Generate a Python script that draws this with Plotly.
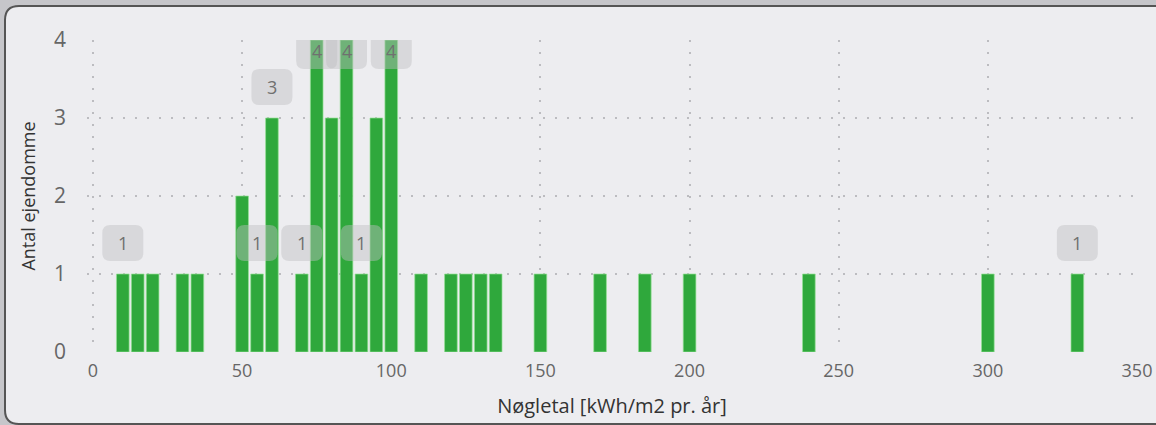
import plotly.graph_objects as go

# Histogram bins (centre of each 5-unit bin) and number of properties
bin_centers = [10, 15, 20, 30, 35, 50, 55, 60, 70, 75, 80, 85, 90, 95, 100,
               110, 120, 125, 130, 135, 150, 170, 185, 200, 240, 300, 330]
counts = [1, 1, 1, 1, 1, 2, 1, 3, 1, 4, 3, 4, 1, 3, 4,
          1, 1, 1, 1, 1, 1, 1, 1, 1, 1, 1, 1]

# Bins that carry a value label in the original chart
labeled_bins = [10, 55, 60, 70, 75, 85, 90, 100, 330]

x_ticks = [0, 50, 100, 150, 200, 250, 300, 350]
y_ticks = [0, 1, 2, 3, 4]
x_title = "Nøgletal [kWh/m2 pr. år]"
y_title = "Antal ejendomme"

W, H = 1156, 425
ML, MR, MT, MB = 87, 19, 40, 73
Y_MAX = 4

fig = go.Figure(go.Bar(
    x=bin_centers,
    y=counts,
    marker=dict(color="#2fa83c", line=dict(color="rgba(150,225,150,0.7)", width=1)),
    hoverinfo="x+y",
))


def rounded_box(w, h, r, y0):
    # rounded rectangle path in pixels, centred horizontally, bottom at y0 (up is positive)
    x0, x1 = -w / 2, w / 2
    y1 = y0 + h
    return (f"M {x0 + r},{y0} L {x1 - r},{y0} Q {x1},{y0} {x1},{y0 + r} "
            f"L {x1},{y1 - r} Q {x1},{y1} {x1 - r},{y1} L {x0 + r},{y1} "
            f"Q {x0},{y1} {x0},{y1 - r} L {x0},{y0 + r} Q {x0},{y0} {x0 + r},{y0} Z")


shapes = []
annotations = []
for xb, c in zip(bin_centers, counts):
    if xb not in labeled_bins:
        continue
    at_top = c >= Y_MAX
    box_bottom = -29 if at_top else 13
    text_shift = -11 if at_top else 31
    shapes.append(dict(
        type="path", xref="x", yref="y",
        xsizemode="pixel", ysizemode="pixel",
        xanchor=xb, yanchor=c,
        path=rounded_box(41, 36, 8, box_bottom),
        fillcolor="rgba(190,190,192,0.45)", line=dict(width=0), layer="above",
    ))
    annotations.append(dict(
        x=xb, y=c, xref="x", yref="y", text=str(c), showarrow=False,
        yshift=text_shift, font=dict(size=18, color="#707070"),
    ))


# frame around the chart (light panel with dark border, rounded left corners)
def px_x(p):
    return (p - ML) / (W - ML - MR)


def px_y(p):
    return (H - MB - p) / (H - MT - MB)


r = 14
left, top, bottom, right = 5, 6, 424, 1170
frame_path = (f"M {px_x(right)},{px_y(top)} L {px_x(left + r)},{px_y(top)} "
              f"Q {px_x(left)},{px_y(top)} {px_x(left)},{px_y(top + r)} "
              f"L {px_x(left)},{px_y(bottom - r)} "
              f"Q {px_x(left)},{px_y(bottom)} {px_x(left + r)},{px_y(bottom)} "
              f"L {px_x(right)},{px_y(bottom)} Z")
shapes.insert(0, dict(
    type="path", xref="paper", yref="paper", path=frame_path,
    fillcolor="#ededf0", line=dict(color="#555555", width=2), layer="below",
))

grid = dict(showgrid=True, gridcolor="rgba(175,175,180,0.8)", gridwidth=2, griddash="2px,10px")

fig.update_layout(
    width=W, height=H,
    margin=dict(l=ML, r=MR, t=MT, b=MB, autoexpand=False),
    paper_bgcolor="#c6c6ca",
    plot_bgcolor="rgba(0,0,0,0)",
    font=dict(family="Open Sans, sans-serif", color="#666666"),
    bargap=0.15,
    showlegend=False,
    shapes=shapes,
    annotations=annotations,
    xaxis=dict(
        range=[-2, 350], tickvals=x_ticks, zeroline=False, showline=False,
        automargin=False,
        tickfont=dict(size=18, color="#666666"), ticklabelstandoff=6,
        title=dict(text=x_title, font=dict(size=20, color="#333333"), standoff=17),
        **grid,
    ),
    yaxis=dict(
        range=[0, Y_MAX], tickvals=y_ticks, zeroline=False, showline=False,
        automargin=False,
        tickfont=dict(size=21, color="#666666"), ticklabelstandoff=20,
        title=dict(text=y_title, font=dict(size=18, color="#333333"), standoff=13),
        **grid,
    ),
)

# drop the browser's default body margin so the figure sits at the window corner
fig.write_html(
    "out.html",
    config={"displayModeBar": False},
    post_script="document.body.style.margin='0px';document.body.style.overflow='hidden';",
)
